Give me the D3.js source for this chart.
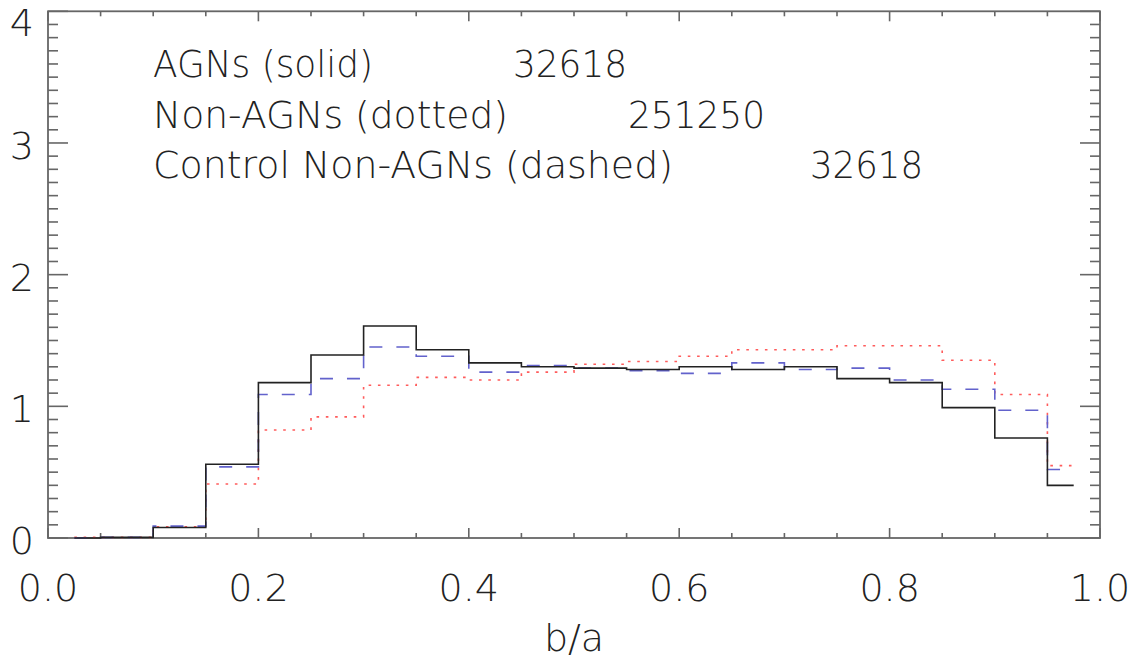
<!DOCTYPE html>
<html>
<head>
<meta charset="utf-8">
<script src="https://cdn.jsdelivr.net/npm/d3@7"></script>
<style>
  body { margin: 0; background: #fff; }
  text { font-family: "DejaVu Sans", "Lato", sans-serif; font-weight: 200; fill: #222; }
</style>
</head>
<body>
<div class="canvas"></div>
<script>
// bin centres of b/a histogram
const binCenters = [0.025, 0.075, 0.125, 0.175, 0.225, 0.275, 0.325, 0.375, 0.425, 0.475,
                    0.525, 0.575, 0.625, 0.675, 0.725, 0.775, 0.825, 0.875, 0.925, 0.975];

// normalised counts
const agn = [0.0, 0.005, 0.08, 0.56, 1.18, 1.39, 1.61, 1.43, 1.33, 1.30,
             1.29, 1.28, 1.30, 1.28, 1.30, 1.21, 1.18, 0.99, 0.76, 0.40];
const nonAgn = [0.005, 0.005, 0.086, 0.41, 0.82, 0.92, 1.16, 1.22, 1.20, 1.26,
                1.32, 1.34, 1.38, 1.43, 1.43, 1.46, 1.46, 1.35, 1.09, 0.55];
const control = [0.0, 0.005, 0.09, 0.54, 1.09, 1.21, 1.45, 1.38, 1.26, 1.31,
                 1.29, 1.27, 1.25, 1.33, 1.28, 1.29, 1.20, 1.13, 0.97, 0.52];

const xTickLabels = ['0.0', '0.2', '0.4', '0.6', '0.8', '1.0'];
const yTickLabels = ['0', '1', '2', '3', '4'];

const legendNames = ['AGNs (solid)', 'Non-AGNs (dotted)', 'Control Non-AGNs (dashed)'];
const legendCounts = ['32618', '251250', '32618'];

const dims = {width: 1143, height: 662};
const plot = {left: 48, right: 1100, top: 11.3, bottom: 538};

const svg = d3.select('.canvas')
    .append('svg')
    .attr('width', dims.width)
    .attr('height', dims.height);

const x = d3.scaleLinear().domain([0, 1]).range([plot.left, plot.right]);
const y = d3.scaleLinear().domain([0, 4]).range([plot.bottom, plot.top]);

const axisColor = '#666';

// ticks on all four sides, pointing inwards
const xMinor = d3.range(0, 1.0001, 0.05);
const yMinor = d3.range(0, 4.0001, 0.1);
const isMajorX = v => Math.abs(v / 0.2 - Math.round(v / 0.2)) < 1e-6;
const isMajorY = v => Math.abs(v - Math.round(v)) < 1e-6;

const ticks = svg.append('g')
    .attr('stroke', axisColor)
    .attr('stroke-width', 1.6);

ticks.selectAll('.xb')
    .data(xMinor)
    .enter().append('line')
    .attr('x1', d => x(d)).attr('x2', d => x(d))
    .attr('y1', plot.bottom)
    .attr('y2', d => plot.bottom - (isMajorX(d) ? 10 : 5));

ticks.selectAll('.xt')
    .data(xMinor)
    .enter().append('line')
    .attr('x1', d => x(d)).attr('x2', d => x(d))
    .attr('y1', plot.top)
    .attr('y2', d => plot.top + (isMajorX(d) ? 10 : 5));

ticks.selectAll('.yl')
    .data(yMinor)
    .enter().append('line')
    .attr('y1', d => y(d)).attr('y2', d => y(d))
    .attr('x1', plot.left)
    .attr('x2', d => plot.left + (isMajorY(d) ? 20 : 10));

ticks.selectAll('.yr')
    .data(yMinor)
    .enter().append('line')
    .attr('y1', d => y(d)).attr('y2', d => y(d))
    .attr('x1', plot.right)
    .attr('x2', d => plot.right - (isMajorY(d) ? 20 : 10));

// frame
svg.append('rect')
    .attr('x', plot.left)
    .attr('y', plot.top)
    .attr('width', plot.right - plot.left)
    .attr('height', plot.bottom - plot.top)
    .attr('fill', 'none')
    .attr('stroke', axisColor)
    .attr('stroke-width', 1.8);

// tick labels
svg.selectAll('.xlab')
    .data(xTickLabels)
    .enter().append('text')
    .attr('x', d => x(+d))
    .attr('y', 601)
    .attr('text-anchor', 'middle')
    .attr('font-size', 38)
    .text(d => d);

svg.selectAll('.ylab')
    .data(yTickLabels)
    .enter().append('text')
    .attr('x', 34)
    .attr('y', d => Math.max(y(+d) + 16, 36))
    .attr('text-anchor', 'end')
    .attr('font-size', 38)
    .text(d => d);

svg.append('text')
    .attr('x', (plot.left + plot.right) / 2)
    .attr('y', 651)
    .attr('text-anchor', 'middle')
    .attr('font-size', 38)
    .text('b/a');

// histograms drawn IDL psym=10 style
const step = d3.line()
    .x(d => x(d[0]))
    .y(d => y(d[1]))
    .curve(d3.curveStep);

const series = [
    {values: nonAgn, color: '#ff5c5c', width: 1.6, dash: '2.6,6.7'},
    {values: control, color: '#6262cc', width: 1.6, dash: '13,14'},
    {values: agn, color: '#222', width: 1.6, dash: null}
];

svg.selectAll('.hist')
    .data(series)
    .enter().append('path')
    .attr('class', 'hist')
    .attr('fill', 'none')
    .attr('stroke', d => d.color)
    .attr('stroke-width', d => d.width)
    .attr('stroke-dasharray', d => d.dash)
    .attr('d', d => step(binCenters.map((c, i) => [c, d.values[i]])));

// legend text
const nameX = 153;
const countX = [513, 628, 810];
const nameW = [220, 355, 520];
const countW = [114, 137, 113];
const baseY = [77, 128, 178];

svg.selectAll('.lname')
    .data(legendNames)
    .enter().append('text')
    .attr('x', nameX)
    .attr('y', (d, i) => baseY[i])
    .attr('font-size', 38)
    .attr('textLength', (d, i) => nameW[i])
    .attr('lengthAdjust', 'spacingAndGlyphs')
    .text(d => d);

svg.selectAll('.lcount')
    .data(legendCounts)
    .enter().append('text')
    .attr('x', (d, i) => countX[i])
    .attr('y', (d, i) => baseY[i])
    .attr('font-size', 38)
    .attr('textLength', (d, i) => countW[i])
    .attr('lengthAdjust', 'spacingAndGlyphs')
    .text(d => d);
</script>
</body>
</html>
